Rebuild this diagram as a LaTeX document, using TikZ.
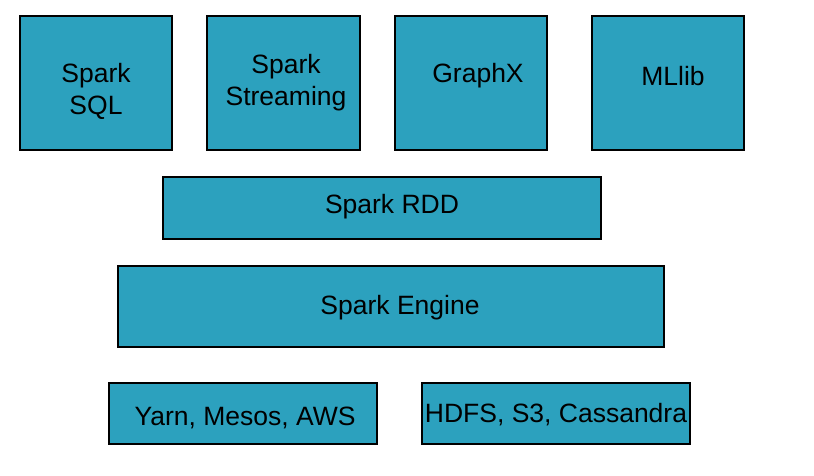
\documentclass[tikz,border=0pt]{standalone}
\usepackage{fontspec}
\setmainfont{Liberation Sans}
\definecolor{sparkfill}{RGB}{44,161,190}
\begin{document}
\begin{tikzpicture}[x=1pt,y=-1pt,
  box/.style={draw=black,line width=1.2pt,fill=sparkfill,rectangle,inner sep=0pt,outer sep=0pt},
  lbl/.style={align=center,font=\fontsize{26.5}{32}\selectfont,inner sep=0pt,text=black,yshift=-3pt}]
\useasboundingbox (0,0) rectangle (814,476);
\fill[white] (0,0) rectangle (814,476);
% top row
\node[box,minimum width=152,minimum height=134] (sql) at (96,83) {};
\node[lbl] (sqlt) at (96,88) {Spark\\SQL};
\node[box,minimum width=153,minimum height=134] (str) at (283.5,83) {};
\node[lbl] (strt) at (286,80) {Spark\\Streaming};
\node[box,minimum width=152,minimum height=134] (gx) at (471,83) {};
\node[lbl] (gxt) at (478,73) {GraphX};
\node[box,minimum width=152,minimum height=134] (ml) at (668,83) {};
\node[lbl] (mlt) at (673,73) {MLlib};
% RDD
\node[box,minimum width=438,minimum height=62] (rdd) at (382,208) {};
\node[lbl] (rddt) at (392,204) {Spark RDD};
% Engine
\node[box,minimum width=546,minimum height=81] (eng) at (391,306.5) {};
\node[lbl] (engt) at (400,305) {Spark Engine};
% bottom
\node[box,minimum width=268,minimum height=61] (yarn) at (243,413.5) {};
\node[lbl] (yarnt) at (245,415) {Yarn, Mesos, AWS};
\node[box,minimum width=268,minimum height=61] (hdfs) at (556,413.5) {};
\node[lbl] (hdfst) at (556,412) {HDFS, S3, Cassandra};
\end{tikzpicture}
\end{document}
